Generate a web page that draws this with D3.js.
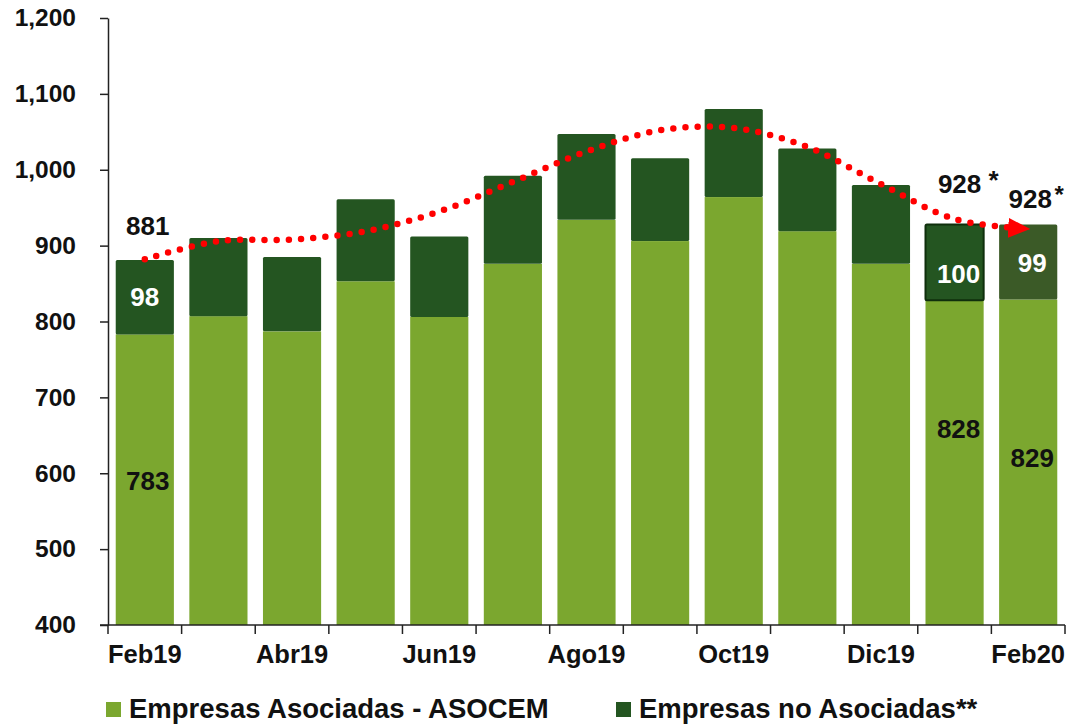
<!DOCTYPE html>
<html>
<head>
<meta charset="utf-8">
<script src="https://cdn.jsdelivr.net/npm/d3@7"></script>
<style>
  body { margin: 0; background: #fff; }
  svg text { font-family: "Liberation Sans", Arial, sans-serif; font-weight: bold; }
</style>
</head>
<body>
<svg width="1067" height="725"></svg>
<script>
var months = ['Feb19', 'Mar19', 'Abr19', 'May19', 'Jun19', 'Jul19', 'Ago19', 'Sep19', 'Oct19', 'Nov19', 'Dic19', 'Ene20', 'Feb20'];
var asociadas = [783, 807, 787, 853, 806, 876, 934, 906, 964, 919, 876, 828, 829];
var noAsociadas = [98, 103, 98, 108, 106, 116, 113, 109, 116, 109, 104, 100, 99];
var tendencia = [882, 906, 908, 919, 945, 984, 1024, 1052, 1055, 1030, 981, 935, 922];
var yTicks = [400, 500, 600, 700, 800, 900, 1000, 1100, 1200];
var seriesNames = ['Empresas Asociadas - ASOCEM', 'Empresas no Asociadas**'];

var light = '#7ba72f', dark = '#245521', darkLast = '#3b5a27';

var svg = d3.select('svg');
var x = d3.scaleBand().domain(months).range([108, 1065]).paddingInner(0.21).paddingOuter(0.105);
var y = d3.scaleLinear().domain([400, 1200]).range([625, 18]);

var rows = months.map(function (m, i) {
    return { m: m, i: i, a: asociadas[i], n: noAsociadas[i] };
});

// bars
svg.append('g').selectAll('rect').data(rows).enter().append('rect')
    .attr('x', function (d) { return x(d.m); })
    .attr('width', x.bandwidth())
    .attr('y', function (d) { return y(d.a); })
    .attr('height', function (d) { return y(400) - y(d.a); })
    .attr('fill', light);

svg.append('g').selectAll('rect').data(rows).enter().append('rect')
    .attr('x', function (d) { return x(d.m); })
    .attr('width', x.bandwidth())
    .attr('y', function (d) { return y(d.a + d.n); })
    .attr('height', function (d) { return y(d.a) - y(d.a + d.n); })
    .attr('rx', 1.5)
    .attr('fill', function (d) { return d.i === 12 ? darkLast : dark; })
    .attr('stroke', function (d) { return d.i === 11 ? '#0f2f0c' : 'none'; })
    .attr('stroke-width', 2);

// axes
var yAxis = svg.append('g').attr('transform', 'translate(108,0)')
    .call(d3.axisLeft(y).tickValues(yTicks).tickSize(8).tickSizeOuter(0).tickFormat(d3.format(',')));
yAxis.select('.domain').attr('stroke', '#222').attr('stroke-width', 1.5);
yAxis.selectAll('.tick line').attr('stroke', '#222').attr('stroke-width', 1.5);
yAxis.selectAll('.tick text').attr('x', -32).attr('font-size', 24.5).attr('fill', '#111')
    .attr('font-family', '"Liberation Sans", Arial, sans-serif');

var xAxis = svg.append('g').attr('transform', 'translate(0,625)');
xAxis.append('line').attr('x1', 100).attr('x2', 1065).attr('stroke', '#222').attr('stroke-width', 1.5);
var bounds = months.map(function (m) { return x(m) - x.step() * x.paddingInner() / 2; });
bounds.push(x(months[12]) + x.bandwidth() + x.step() * x.paddingInner() / 2);
xAxis.selectAll('.tk').data(bounds).enter().append('line')
    .attr('x1', function (d) { return d; }).attr('x2', function (d) { return d; })
    .attr('y1', 0).attr('y2', 9).attr('stroke', '#222').attr('stroke-width', 1.5);
xAxis.selectAll('text').data(rows.filter(function (d) { return d.i % 2 === 0; })).enter().append('text')
    .attr('x', function (d) { return x(d.m) + x.bandwidth() / 2; })
    .attr('y', 38).attr('text-anchor', 'middle').attr('font-size', 25.5).attr('fill', '#111')
    .text(function (d) { return d.m; });

// trend line
svg.append('defs').append('marker')
    .attr('id', 'arrow').attr('markerUnits', 'userSpaceOnUse')
    .attr('viewBox', '0 0 22 20').attr('refX', 20).attr('refY', 10)
    .attr('markerWidth', 22).attr('markerHeight', 20).attr('orient', 'auto')
    .append('path').attr('d', 'M0,0 L22,10 L0,20 Z').attr('fill', '#ff0000');

var line = d3.line()
    .x(function (d, i) { return x(months[i]) + x.bandwidth() / 2; })
    .y(function (d) { return y(d); })
    .curve(d3.curveCatmullRom.alpha(0.5));

svg.append('path').datum(tendencia)
    .attr('d', line)
    .attr('fill', 'none').attr('stroke', '#ff0000').attr('stroke-width', 6.5)
    .attr('stroke-linecap', 'round').attr('stroke-dasharray', '0 12.2')
    .attr('marker-end', 'url(#arrow)');

// data labels
function cx(i) { return x(months[i]) + x.bandwidth() / 2; }
var labels = svg.append('g').attr('font-size', 26);
labels.append('text').attr('x', cx(0) + 3).attr('y', 235).attr('text-anchor', 'middle').attr('fill', '#111')
    .text(d3.format(',')(asociadas[0] + noAsociadas[0]));
labels.append('text').attr('x', cx(0)).attr('y', 306).attr('text-anchor', 'middle').attr('fill', '#fff')
    .text(noAsociadas[0]);
labels.append('text').attr('x', cx(0) + 3).attr('y', 490).attr('text-anchor', 'middle').attr('fill', '#111')
    .text(asociadas[0]);

// Ene20
labels.append('text').attr('x', cx(11) + 5).attr('y', 193).attr('text-anchor', 'middle').attr('fill', '#111')
    .text(asociadas[11] + noAsociadas[11]);
labels.append('text').attr('x', cx(11) + 39).attr('y', 189).attr('text-anchor', 'middle').attr('fill', '#111').attr('font-size', 26)
    .text('*');
labels.append('text').attr('x', cx(11) + 4).attr('y', 283).attr('text-anchor', 'middle').attr('fill', '#fff')
    .text(noAsociadas[11]);
labels.append('text').attr('x', cx(11) + 4).attr('y', 438).attr('text-anchor', 'middle').attr('fill', '#111')
    .text(asociadas[11]);

// Feb20
labels.append('text').attr('x', cx(12) + 2).attr('y', 208).attr('text-anchor', 'middle').attr('fill', '#111')
    .text(asociadas[12] + noAsociadas[12]);
labels.append('text').attr('x', cx(12) + 31).attr('y', 203).attr('text-anchor', 'middle').attr('fill', '#111').attr('font-size', 24)
    .text('*');
labels.append('text').attr('x', cx(12) + 4).attr('y', 272).attr('text-anchor', 'middle').attr('fill', '#fff')
    .text(noAsociadas[12]);
labels.append('text').attr('x', cx(12) + 4).attr('y', 467).attr('text-anchor', 'middle').attr('fill', '#111')
    .text(asociadas[12]);

// legend
var legend = svg.append('g');
var legX = [106, 616];
seriesNames.forEach(function (name, i) {
    legend.append('rect').attr('x', legX[i]).attr('y', 702).attr('width', 15).attr('height', 15)
        .attr('fill', i === 0 ? light : dark);
    legend.append('text').attr('x', legX[i] + 23).attr('y', 718).attr('font-size', 27.5).attr('fill', '#111')
        .text(name);
});
</script>
</body>
</html>
